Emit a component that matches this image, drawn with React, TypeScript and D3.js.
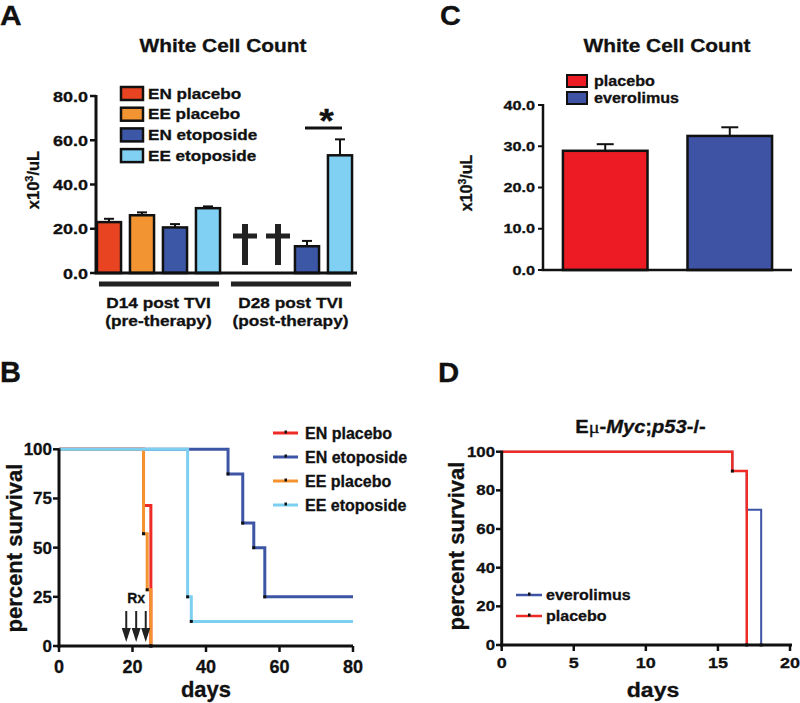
import React from "react";
import * as d3 from "d3";

const FONT = "'Liberation Sans', Arial, Helvetica, sans-serif";

// ---------- Panel A data ----------
const seriesA = ["EN placebo", "EE placebo", "EN etoposide", "EE etoposide"];
const colorsA = ["#e84422", "#f39432", "#3c57a6", "#7fd0f2"];
const timepointsA = ["D14 post TVI", "D28 post TVI"];
const subLabelsA = ["(pre-therapy)", "(post-therapy)"];
const d14Mean = [23.0, 26.1, 20.6, 29.3];
const d14Err = [1.5, 1.3, 1.5, 0.8];
const d28Mean: (number | null)[] = [null, null, 12.1, 53.2];
const d28Err: (number | null)[] = [null, null, 2.4, 7.2];
const yTicksA = [0, 20, 40, 60, 80];

// ---------- Panel C data ----------
const seriesC = ["placebo", "everolimus"];
const colorsC = ["#ed1c24", "#3f53a4"];
const meanC = [28.9, 32.5];
const errC = [1.6, 2.1];
const yTicksC = [0, 10, 20, 30, 40];

// ---------- Panel B data ----------
const seriesB = ["EN placebo", "EN etoposide", "EE placebo", "EE etoposide"];
const colorsB = ["#ee2b24", "#3c55a5", "#f3922f", "#7dcff2"];
const survENplacebo: [number, number][] = [[0, 100], [23, 71.4], [25, 0]];
const survENetoposide: [number, number][] = [[0, 100], [46, 87.5], [50, 62.5], [53, 50], [56, 25], [80, 25]];
const survEEplacebo: [number, number][] = [[0, 100], [23, 57.1], [24, 28.6], [25, 0]];
const survEEetoposide: [number, number][] = [[0, 100], [35, 25], [36, 12.5], [80, 12.5]];
const marksENplacebo: [number, number][] = [[25, 0]];
const marksENetoposide: [number, number][] = [[46, 87.5], [50, 62.5], [53, 50], [56, 25]];
const marksEEplacebo: [number, number][] = [[23, 57.1], [24, 28.6], [25, 0]];
const marksEEetoposide: [number, number][] = [[35, 25], [36, 12.5]];
const rxDays = [18.3, 21, 23.6];
const xTicksB = [0, 20, 40, 60, 80];
const yTicksB = [0, 25, 50, 75, 100];

// ---------- Panel D data ----------
const seriesD = ["everolimus", "placebo"];
const colorsD = ["#3f53a4", "#ee2b24"];
const survEverolimus: [number, number][] = [[0, 100], [16, 90], [17, 70], [18, 0]];
const survPlacebo: [number, number][] = [[0, 100], [16, 90], [17, 0]];
const marksEverolimus: [number, number][] = [[18, 0]];
const marksPlacebo: [number, number][] = [[16, 90], [17, 0]];
const xTicksD = [0, 5, 10, 15, 20];
const yTicksD = [0, 20, 40, 60, 80, 100];

type TProps = {
  x: number; y: number; size: number; sx?: number; anchor?: string; weight?: string;
  rotate?: number; children: React.ReactNode; style?: string; fill?: string;
};
function T({ x, y, size, sx = 1, anchor = "start", weight = "bold", rotate, children, style, fill = "#111" }: TProps) {
  const tr = `translate(${x},${y})${rotate ? ` rotate(${rotate})` : ""} scale(${sx},1)`;
  return (
    <text transform={tr} fontSize={size} textAnchor={anchor as any} fontWeight={weight}
      fontFamily={FONT} fontStyle={style} fill={fill} stroke={fill} strokeWidth={0.3}>
      {children}
    </text>
  );
}

function PanelA() {
  const y = d3.scaleLinear().domain([0, 80]).range([273, 96]);
  const slots = timepointsA.flatMap((t) => seriesA.map((s) => `${t}|${s}`));
  const x = d3.scaleBand<string>().domain(slots).range([92.5, 356.5]).paddingInner(0.27).paddingOuter(0.135);
  const bw = x.bandwidth();
  const means = [d14Mean, d28Mean];
  const errs = [d14Err, d28Err];
  const sxA = 1.18;
  return (
    <g>
      <T x={0} y={25} size={28} sx={1.07}>A</T>
      <T x={223} y={52} size={18.5} sx={1.13} anchor="middle">White Cell Count</T>
      {/* y label */}
      <text transform="translate(39,180) rotate(-90)" fontSize={16.5} fontWeight="bold" fontFamily={FONT} textAnchor="middle" fill="#111" stroke="#111" strokeWidth={0.3}>
        x10<tspan fontSize={11} dy={-6}>3</tspan><tspan dy={6}>/uL</tspan>
      </text>
      {/* bars */}
      {timepointsA.map((t, ti) =>
        seriesA.map((s, si) => {
          const m = means[ti][si];
          const e = errs[ti][si];
          if (m == null) return null;
          const x0 = x(`${t}|${s}`)!;
          const cx = x0 + bw / 2;
          return (
            <g key={`${t}${s}`}>
              <line x1={cx} x2={cx} y1={y(m)} y2={y(m + (e || 0))} stroke="#111" strokeWidth={2} />
              <line x1={cx - 5} x2={cx + 5} y1={y(m + (e || 0))} y2={y(m + (e || 0))} stroke="#111" strokeWidth={2} />
              <rect x={x0} y={y(m)} width={bw} height={y(0) - y(m)} fill={colorsA[si]} stroke="#111" strokeWidth={2.5} />
            </g>
          );
        })
      )}
      {/* daggers for dead groups */}
      {seriesA.map((s, si) => {
        if (d28Mean[si] != null) return null;
        const cx = x(`${timepointsA[1]}|${s}`)! + bw / 2 + 4;
        return (
          <g key={`dag${si}`} fill="#222">
            <rect x={cx - 3} y={224} width={6} height={41} />
            <rect x={cx - 12} y={233.5} width={24} height={5} />
          </g>
        );
      })}
      {/* axes */}
      <line x1={96} x2={96} y1={y(80) - 1} y2={y(0)} stroke="#111" strokeWidth={3} />
      <line x1={94.5} x2={357} y1={y(0)} y2={y(0)} stroke="#111" strokeWidth={3} />
      {yTicksA.map((v) => (
        <g key={v}>
          <line x1={90} x2={96} y1={y(v)} y2={y(v)} stroke="#111" strokeWidth={2.5} />
          <T x={88} y={y(v) + 5.5} size={15} sx={1.2} anchor="end">{d3.format(".1f")(v)}</T>
        </g>
      ))}
      {/* group bars */}
      {timepointsA.map((t, ti) => {
        const first = x(`${t}|${seriesA[0]}`)!;
        const last = x(`${t}|${seriesA[seriesA.length - 1]}`)! + bw;
        const cx = (first + last) / 2;
        return (
          <g key={t}>
            <line x1={first + 2} x2={last - 1} y1={284} y2={284} stroke="#222" strokeWidth={5} />
            <T x={cx} y={308} size={15} sx={1.15} anchor="middle">{t}</T>
            <T x={cx} y={326} size={15} sx={1.15} anchor="middle">{subLabelsA[ti]}</T>
          </g>
        );
      })}
      {/* significance */}
      {(() => {
        const a = x(`${timepointsA[1]}|${seriesA[2]}`)! + bw / 2;
        const b = x(`${timepointsA[1]}|${seriesA[3]}`)! + bw / 2;
        return (
          <g>
            <line x1={a - 2} x2={b + 2} y1={128} y2={128} stroke="#111" strokeWidth={3} />
            <T x={(a + b) / 2 + 3} y={132} size={34} sx={1.1} anchor="middle">*</T>
          </g>
        );
      })()}
      {/* legend */}
      {seriesA.map((s, i) => (
        <g key={s}>
          <rect x={121} y={87 + i * 20.7} width={22} height={13} fill={colorsA[i]} stroke="#111" strokeWidth={2.5} />
          <T x={148} y={98.5 + i * 20.7} size={14.5} sx={sxA}>{s}</T>
        </g>
      ))}
    </g>
  );
}

function PanelC() {
  const y = d3.scaleLinear().domain([0, 40]).range([270, 105]);
  const x = d3.scaleBand<string>().domain(seriesC).range([543, 792]).paddingInner(0.321).paddingOuter(0.16);
  const bw = x.bandwidth();
  return (
    <g>
      <T x={440} y={25} size={27} sx={1.07}>C</T>
      <T x={667} y={52} size={18.5} sx={1.13} anchor="middle">White Cell Count</T>
      <text transform="translate(472,183) rotate(-90)" fontSize={16} fontWeight="bold" fontFamily={FONT} textAnchor="middle" fill="#111" stroke="#111" strokeWidth={0.3}>
        x10<tspan fontSize={10.5} dy={-6}>3</tspan><tspan dy={6}>/uL</tspan>
      </text>
      {seriesC.map((s, i) => {
        const x0 = x(s)!;
        const cx = x0 + bw / 2;
        const top = y(meanC[i] + errC[i]);
        return (
          <g key={s}>
            <line x1={cx} x2={cx} y1={y(meanC[i])} y2={top} stroke="#111" strokeWidth={2} />
            <line x1={cx - 8.5} x2={cx + 8.5} y1={top} y2={top} stroke="#111" strokeWidth={2} />
            <rect x={x0} y={y(meanC[i])} width={bw} height={y(0) - y(meanC[i])} fill={colorsC[i]} stroke="#111" strokeWidth={2.5} />
          </g>
        );
      })}
      <line x1={543} x2={543} y1={y(40) - 1} y2={y(0)} stroke="#111" strokeWidth={2.5} />
      <line x1={541.5} x2={792} y1={y(0)} y2={y(0)} stroke="#111" strokeWidth={2.5} />
      {yTicksC.map((v) => (
        <g key={v}>
          <line x1={538} x2={543} y1={y(v)} y2={y(v)} stroke="#111" strokeWidth={2} />
          <T x={535} y={y(v) + 4.5} size={12.5} sx={1.3} anchor="end">{d3.format(".1f")(v)}</T>
        </g>
      ))}
      {seriesC.map((s, i) => (
        <g key={`lg${s}`}>
          <rect x={567} y={75 + i * 17} width={20} height={12} fill={colorsC[i]} stroke="#111" strokeWidth={2} />
          <T x={594} y={86 + i * 17} size={14} sx={1.15}>{s}</T>
        </g>
      ))}
    </g>
  );
}

function PanelB() {
  const x = d3.scaleLinear().domain([0, 80]).range([59, 353]);
  const y = d3.scaleLinear().domain([0, 100]).range([646, 449.3]);
  const line = d3.line<[number, number]>().x((d) => x(d[0])).y((d) => y(d[1])).curve(d3.curveStepAfter);
  const curves = [survENplacebo, survENetoposide, survEEplacebo, survEEetoposide];
  const marks = [marksENplacebo, marksENetoposide, marksEEplacebo, marksEEetoposide];
  return (
    <g>
      <T x={0} y={382} size={29} sx={1.0}>B</T>
      {curves.map((c, i) => (
        <path key={i} d={line(c)!} fill="none" stroke={colorsB[i]} strokeWidth={3} />
      ))}
      {marks.flat().map((m, i) => (
        <rect key={i} x={x(m[0]) - 1.5} y={y(m[1]) - 1.5} width={3} height={3} fill="#111" />
      ))}
      {/* Rx arrows */}
      {rxDays.map((d, i) => (
        <g key={i}>
          <line x1={x(d)} x2={x(d)} y1={611} y2={630} stroke="#222" strokeWidth={2} />
          <path d={`M${x(d) - 4.5},628 L${x(d) + 4.5},628 L${x(d)},642 Z`} fill="#222" />
        </g>
      ))}
      <T x={x(rxDays[1])} y={603} size={14} anchor="middle">Rx</T>
      {/* axes */}
      <line x1={x(0)} x2={x(0)} y1={y(100) - 1} y2={y(0) + 1.5} stroke="#111" strokeWidth={3} />
      <line x1={x(0) - 1.5} x2={x(80)} y1={y(0)} y2={y(0)} stroke="#111" strokeWidth={3} />
      {yTicksB.map((v) => (
        <g key={v}>
          <line x1={53} x2={59} y1={y(v)} y2={y(v)} stroke="#111" strokeWidth={2.5} />
          <T x={52} y={y(v) + 6} size={17} anchor="end">{v}</T>
        </g>
      ))}
      {xTicksB.map((v) => (
        <g key={v}>
          <line x1={x(v)} x2={x(v)} y1={646} y2={652} stroke="#111" strokeWidth={2.5} />
          <T x={x(v)} y={673} size={18} anchor="middle">{v}</T>
        </g>
      ))}
      <T x={206} y={697} size={22} anchor="middle">days</T>
      <T x={22} y={548} size={22} anchor="middle" rotate={-90}>percent survival</T>
      {seriesB.map((s, i) => (
        <g key={s}>
          <line x1={273} x2={298} y1={433 + i * 24} y2={433 + i * 24} stroke={colorsB[i]} strokeWidth={3} />
          <rect x={284.5} y={430.5 + i * 24} width={2.5} height={3} fill="#111" />
          <T x={305} y={439 + i * 24} size={16}>{s}</T>
        </g>
      ))}
    </g>
  );
}

function PanelD() {
  const x = d3.scaleLinear().domain([0, 20]).range([501.7, 790]);
  const y = d3.scaleLinear().domain([0, 100]).range([645, 451.7]);
  const line = d3.line<[number, number]>().x((d) => x(d[0])).y((d) => y(d[1])).curve(d3.curveStepAfter);
  const curves = [survEverolimus, survPlacebo];
  const marks = [marksEverolimus, marksPlacebo];
  const sxD = 1.2;
  return (
    <g>
      <T x={438} y={382} size={28} sx={1.05}>D</T>
      <text transform={`translate(640.5,433) scale(1.15,1)`} fontSize={17.5} fontWeight="bold" fontFamily={FONT} textAnchor="middle" fill="#111" stroke="#111" strokeWidth={0.3}>
        E<tspan fontWeight="normal" fontFamily="'Liberation Serif', 'Times New Roman', serif">μ</tspan>-<tspan fontStyle="italic">Myc</tspan>;<tspan fontStyle="italic">p53</tspan>-/-
      </text>
      {curves.map((c, i) => (
        <path key={i} d={line(c)!} fill="none" stroke={colorsD[i]} strokeWidth={i === 1 ? 2.5 : 2} />
      ))}
      {marks.flat().map((m, i) => (
        <rect key={i} x={x(m[0]) - 1.5} y={y(m[1]) - 1.5} width={3} height={3} fill="#111" />
      ))}
      <line x1={x(0)} x2={x(0)} y1={y(100) - 1} y2={y(0) + 1.5} stroke="#111" strokeWidth={3} />
      <line x1={x(0) - 1.5} x2={792} y1={y(0)} y2={y(0)} stroke="#111" strokeWidth={3} />
      {yTicksD.map((v) => (
        <g key={v}>
          <line x1={496} x2={x(0)} y1={y(v)} y2={y(v)} stroke="#111" strokeWidth={2.5} />
          <T x={495} y={y(v) + 5} size={14} sx={sxD} anchor="end">{v}</T>
        </g>
      ))}
      {xTicksD.map((v) => (
        <g key={v}>
          <line x1={x(v)} x2={x(v)} y1={645} y2={651} stroke="#111" strokeWidth={2.5} />
          <T x={x(v)} y={668} size={15} sx={sxD} anchor="middle">{v}</T>
        </g>
      ))}
      <T x={653} y={697} size={21} sx={1.1} anchor="middle">days</T>
      <T x={464} y={546} size={22} anchor="middle" rotate={-90}>percent survival</T>
      {seriesD.map((s, i) => (
        <g key={s}>
          <line x1={516} x2={542} y1={595 + i * 21} y2={595 + i * 21} stroke={colorsD[i]} strokeWidth={2.5} />
          <rect x={528} y={592.5 + i * 21} width={2.5} height={3} fill="#111" />
          <T x={546} y={600 + i * 21} size={15} sx={1.07}>{s}</T>
        </g>
      ))}
    </g>
  );
}

export default function App() {
  return (
    <svg width={800} height={703} viewBox="0 0 800 703"
      style={{ position: "absolute", left: 0, top: 0, background: "#fff" }}>
      <rect x={0} y={0} width={800} height={703} fill="#fff" />
      <PanelA />
      <PanelC />
      <PanelB />
      <PanelD />
    </svg>
  );
}
